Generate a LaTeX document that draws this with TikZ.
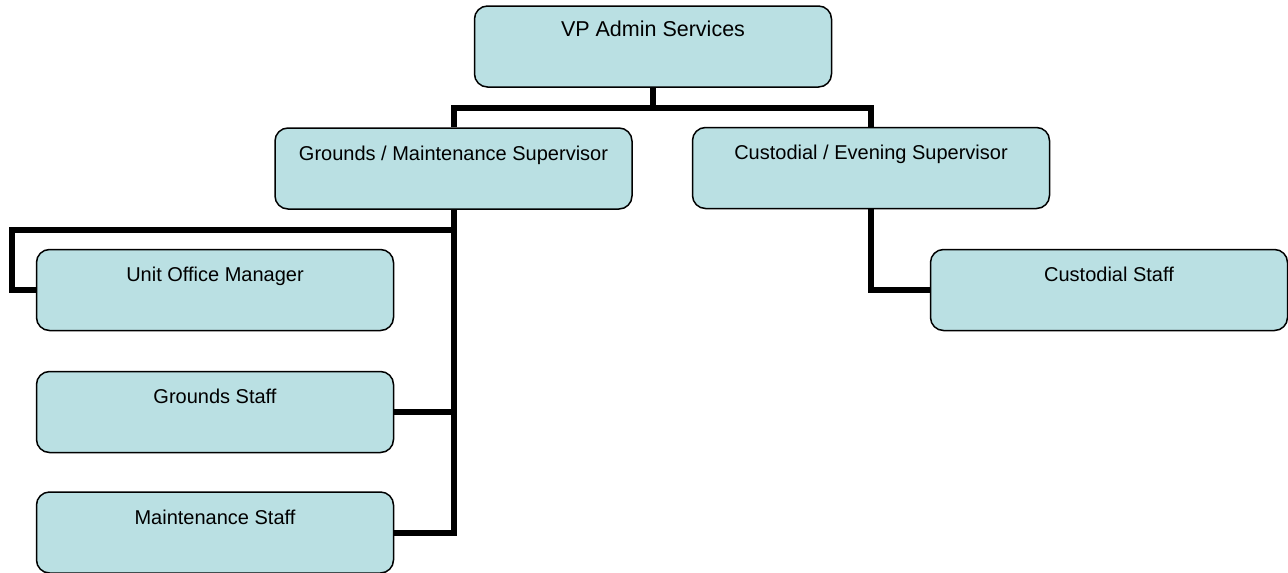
\documentclass[tikz,border=0pt]{standalone}
\usepackage{fontspec}
\setmainfont{Liberation Sans}
\definecolor{boxfill}{RGB}{186,224,227}
\tikzset{
	post/.style={draw=black,line width=1.5pt,fill=boxfill,rounded corners=13pt,
		minimum width=357pt,minimum height=81pt,inner sep=0pt,
		text height=32pt,text depth=49pt,font=\fontsize{20}{24}\selectfont},
	wire/.style={line width=6pt,line join=miter}
}
\begin{document}
\begin{tikzpicture}[x=1pt,y=-1pt]
	\useasboundingbox (0,0) rectangle (1288,573);
	\path 	(653,108) coordinate (topbus)
			(12,230) coordinate (elbow);
	\node[post,font=\fontsize{21.5}{25}\selectfont,text height=30pt,text depth=51pt] (vp) at (653,46.5) {VP Admin Services};
	\node[post] (gms) at (453.5,168.5) {Grounds / Maintenance Supervisor};
	\node[post] (ces) at (871,168) {Custodial / Evening Supervisor};
	\node[post] (uom) at (215,290) {Unit Office Manager};
	\node[post] (gs) at (215,412) {Grounds Staff};
	\node[post] (ms) at (215,532.5) {Maintenance Staff};
	\node[post] (cs) at (1109,290) {Custodial Staff};
	\draw[wire]
		  (vp.south) -- (vp.south |- topbus)
		  (gms.north) |- (ces.north |- topbus) -- (ces.north)
		  (gms.south) |- (ms.east)
		  (gs.east) -- (gs.east -| gms.south)
		  (gms.south |- elbow) -- (elbow) |- (uom.west)
		  (ces.south) |- (cs.west);
\end{tikzpicture}
\end{document}
